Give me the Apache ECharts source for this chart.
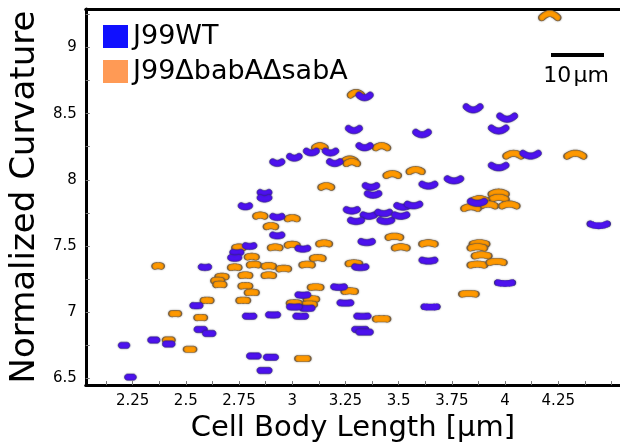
<!DOCTYPE html>
<html>
<head>
<meta charset="utf-8">
<script src="https://cdn.jsdelivr.net/npm/echarts@6/dist/echarts.min.js"></script>
<style>
  html, body { margin: 0; padding: 0; background: #fff; }
  #chart1 { width: 620px; height: 448px; }
</style>
</head>
<body>
<div id="chart1"></div>
<script>
// cell body length [um] and normalized curvature
var wtLength = [3.34,3.29,3.34,3.09,3.18,3.01,2.93,3.20,3.37,3.38,2.87,2.87,3.85,4.01,3.97,3.61,4.12,3.97,3.64,3.76,3.87,3.52,3.57,3.28,3.36,3.43,3.30,3.44,3.51,3.35,4.44,3.05,3.64,3.32,3.22,3.05,3.07,3.25,4.00,3.65,3.33,3.32,3.34,2.78,2.93,2.93,2.80,2.74,2.73,2.59,3.01,2.55,2.80,2.91,3.04,2.57,2.61,2.35,2.42,2.21,2.82,2.90,2.87,2.24];
var wtCurv = [8.63,8.38,8.25,8.21,8.21,8.17,8.13,8.13,7.95,7.89,7.90,7.86,8.54,8.47,8.38,8.35,8.19,8.10,7.96,8.00,7.83,7.80,7.81,7.77,7.73,7.75,7.69,7.69,7.73,7.53,7.66,7.48,7.39,7.34,7.19,7.13,7.03,7.07,7.22,7.04,6.97,6.87,6.85,7.80,7.72,7.58,7.50,7.45,7.41,7.34,7.04,7.05,6.97,6.98,6.97,6.87,6.84,6.79,6.76,6.75,6.67,6.66,6.56,6.51];

var mutLength = [4.21,3.30,3.13,3.42,3.27,3.28,3.16,4.04,4.33,3.47,3.58,3.97,3.97,3.88,3.92,4.02,3.84,3.15,3.48,3.51,3.64,3.88,3.87,3.12,3.07,3.29,3.89,3.87,3.96,3.11,3.27,3.09,3.08,3.01,3.83,3.42,3.05,2.85,3.00,2.90,2.75,2.92,3.00,2.81,2.37,2.73,2.82,2.89,2.96,2.78,2.89,2.67,2.65,2.66,2.78,2.81,2.77,2.60,2.45,2.57,2.42,2.52];
var mutCurv = [9.24,8.65,8.25,8.25,8.15,8.13,7.95,8.19,8.19,8.04,8.07,7.90,7.86,7.85,7.81,7.81,7.79,7.52,7.57,7.49,7.52,7.52,7.49,7.41,7.36,7.37,7.43,7.36,7.38,7.19,7.16,7.10,7.06,7.07,7.14,6.95,6.65,7.73,7.71,7.65,7.49,7.49,7.51,7.42,7.35,7.34,7.36,7.35,7.33,7.28,7.28,7.27,7.24,7.21,7.20,7.15,7.09,7.09,6.99,6.96,6.79,6.72];

var xTickLabels = [2.25, 2.5, 2.75, 3, 3.25, 3.5, 3.75, 4, 4.25];
var yTickLabels = [6.5, 7, 7.5, 8, 8.5, 9];
var xTicks = [2.125,2.25,2.375,2.5,2.625,2.75,2.875,3,3.125,3.25,3.375,3.5,3.625,3.75,3.875,4,4.125,4.25,4.375,4.5];
var yTicks = [6.5,6.75,7,7.25,7.5,7.75,8,8.25,8.5,8.75,9,9.25];

var FONT = 'DejaVu Sans';
var PX_PER_UM = 5.3;   // same scale as the 10um bar
var THICK = 6.4;

function pairs(xs, ys) {
    var out = [];
    for (var i = 0; i < xs.length; i++) out.push([xs[i], ys[i]]);
    return out;
}

// bean shaped cell outline: centre line bent by the curvature,
// dir 1 = ends up (smile), -1 = ends down (arch)
function cellShape(len, curv, dir) {
    var r = THICK / 2;
    var Lc = Math.max(2, len * PX_PER_UM - 2 * r);
    var k = Math.min(0.26, Math.max(0, (curv - 6.8) * 0.13));
    var s = Lc * k * dir;
    var pts = [];
    var N = 12, i, t, a;
    var cl = [];
    for (i = 0; i <= N; i++) {
        t = i / N;
        var px = t * Lc, py = 4 * s * t * (1 - t);
        var tx = Lc, ty = 4 * s * (1 - 2 * t);
        var d = Math.sqrt(tx * tx + ty * ty);
        cl.push({ x: px, y: py, ux: tx / d, uy: ty / d, nx: -ty / d, ny: tx / d });
    }
    for (i = 0; i <= N; i++) pts.push([cl[i].x + r * cl[i].nx, cl[i].y + r * cl[i].ny]);
    var e = cl[N];
    for (i = 1; i < 8; i++) {
        a = Math.PI * i / 8;
        pts.push([e.x + r * (Math.cos(a) * e.nx + Math.sin(a) * e.ux), e.y + r * (Math.cos(a) * e.ny + Math.sin(a) * e.uy)]);
    }
    for (i = N; i >= 0; i--) pts.push([cl[i].x - r * cl[i].nx, cl[i].y - r * cl[i].ny]);
    var b = cl[0];
    for (i = 1; i < 8; i++) {
        a = Math.PI * i / 8;
        pts.push([b.x - r * (Math.cos(a) * b.nx + Math.sin(a) * b.ux), b.y - r * (Math.cos(a) * b.ny + Math.sin(a) * b.uy)]);
    }
    var minX = Infinity, maxX = -Infinity, minY = Infinity, maxY = -Infinity;
    var p = '';
    for (i = 0; i < pts.length; i++) {
        minX = Math.min(minX, pts[i][0]); maxX = Math.max(maxX, pts[i][0]);
        minY = Math.min(minY, pts[i][1]); maxY = Math.max(maxY, pts[i][1]);
        p += (i ? ' L' : 'M') + pts[i][0].toFixed(2) + ' ' + pts[i][1].toFixed(2);
    }
    return { path: 'path://' + p + ' Z', w: maxX - minX, h: maxY - minY };
}

var myChart = echarts.init(document.getElementById('chart1'));

var option = {
    animation: false,
    backgroundColor: '#fff',
    textStyle: { fontFamily: FONT },
    grid: { left: 82, right: 0, top: 9, bottom: 61, containLabel: false },
    legend: {
        orient: 'vertical',
        left: 98,
        top: 18,
        itemWidth: 25,
        itemHeight: 23,
        itemGap: 8,
        icon: 'rect',
        textStyle: { fontFamily: FONT, fontSize: 27, color: '#000' },
        data: [
            { name: 'J99WT', itemStyle: { color: '#1010ff', borderWidth: 0, shadowBlur: 0 } },
            { name: 'J99ΔbabAΔsabA', itemStyle: { color: '#ff9a55', borderWidth: 0, shadowBlur: 0 } }
        ]
    },
    xAxis: [{
        type: 'value',
        min: 2.03,
        max: 4.54,
        name: 'Cell Body Length [µm]',
        nameLocation: 'middle',
        nameGap: 28,
        nameTextStyle: { fontFamily: FONT, fontSize: 29, color: '#000' },
        splitLine: { show: false },
        axisLine: { lineStyle: { color: '#000', width: 3 } },
        axisTick: { inside: true, length: 4, lineStyle: { color: '#777', width: 1 }, customValues: xTicks },
        axisLabel: { fontFamily: FONT, fontSize: 15, color: '#000', margin: 9, customValues: xTickLabels }
    }, {
        type: 'value',
        position: 'top',
        min: 2.03,
        max: 4.54,
        splitLine: { show: false },
        axisLine: { lineStyle: { color: '#000', width: 3 } },
        axisTick: { show: false },
        axisLabel: { show: false }
    }],
    yAxis: {
        type: 'value',
        min: 6.45,
        max: 9.29,
        name: 'Normalized Curvature',
        nameLocation: 'middle',
        nameGap: 41,
        nameTextStyle: { fontFamily: FONT, fontSize: 34, color: '#000' },
        splitLine: { show: false },
        axisLine: { lineStyle: { color: '#000', width: 3 } },
        axisTick: { inside: true, length: 4, lineStyle: { color: '#777', width: 1 }, customValues: yTicks },
        axisLabel: { fontFamily: FONT, fontSize: 15, color: '#000', margin: 9, customValues: yTickLabels }
    },
    graphic: [
        { type: 'rect', shape: { x: 551, y: 53, width: 53, height: 4 }, style: { fill: '#000' }, z: 100 },
        { type: 'text', x: 576, y: 76, style: { text: '10\u200aµm', font: '22px "DejaVu Sans"', fill: '#000', align: 'center', verticalAlign: 'middle' }, z: 100 }
    ],
    series: [
        {
            name: 'J99ΔbabAΔsabA',
            type: 'scatter',
            z: 2,
            data: pairs(mutLength, mutCurv),
            symbol: function (v) { return cellShape(v[0], v[1], -1).path; },
            symbolSize: function (v) { var c = cellShape(v[0], v[1], -1); return [c.w, c.h]; },
            itemStyle: {
                color: '#ff9900', borderColor: '#7a6040', borderWidth: 0.9, opacity: 1,
                shadowBlur: 2, shadowColor: 'rgba(0,0,0,0.3)'
            }
        },
        {
            name: 'J99WT',
            type: 'scatter',
            z: 3,
            data: pairs(wtLength, wtCurv),
            symbol: function (v) { return cellShape(v[0], v[1], 1).path; },
            symbolSize: function (v) { var c = cellShape(v[0], v[1], 1); return [c.w, c.h]; },
            itemStyle: {
                color: '#4d12ee', borderColor: '#3a2a90', borderWidth: 0.6, opacity: 1,
                shadowBlur: 2, shadowColor: 'rgba(0,0,0,0.3)'
            }
        }
    ]
};

myChart.setOption(option);
</script>
</body>
</html>
